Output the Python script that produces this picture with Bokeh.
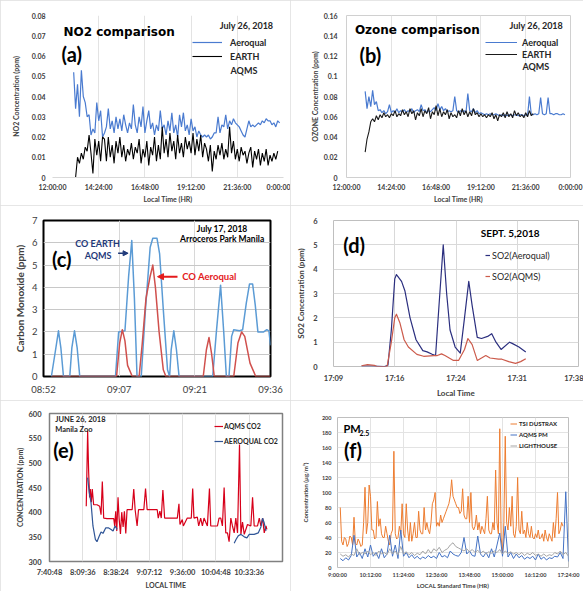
import numpy as np
from bokeh.plotting import figure
from bokeh.layouts import column, row
from bokeh.models import Range1d, FixedTicker, Label, Legend, LegendItem, Arrow, NormalHead
from bokeh.embed import file_html
from bokeh.resources import INLINE

FONT = "Lato"
TFONT = "DejaVu Sans"
STEP_H = 0.1  # sampling interval (hours) of the continuous records

# ---------------- (a) NO2, July 26 2018 ----------------
no2_ticks = [12, 14.4, 16.8, 19.2, 21.6, 24]
no2_tick_labels = ["12:00:00", "14:24:00", "16:48:00", "19:12:00", "21:36:00", "0:00:00"]
no2_yticks = [0, 0.01, 0.02, 0.03, 0.04, 0.05, 0.06, 0.07, 0.08]
no2_ytick_labels = ["0", "0.01", "0.02", "0.03", "0.04", "0.05", "0.06", "0.07", "0.08"]
no2_aeroqual_t0 = 13.1
no2_aeroqual = [0.052, 0.034, 0.046, 0.030, 0.053, 0.040, 0.037, 0.030, 0.031, 0.021,
                0.024, 0.022, 0.037, 0.028, 0.033, 0.020, 0.022, 0.025, 0.034, 0.024,
                0.028, 0.022, 0.030, 0.024, 0.029, 0.023, 0.031, 0.026, 0.022, 0.027,
                0.024, 0.036, 0.026, 0.022, 0.030, 0.025, 0.035, 0.022, 0.028, 0.033,
                0.024, 0.027, 0.021, 0.026, 0.023, 0.033, 0.024, 0.026, 0.021, 0.028,
                0.023, 0.032, 0.022, 0.026, 0.020, 0.031, 0.025, 0.032, 0.023, 0.026,
                0.021, 0.029, 0.023, 0.025, 0.020, 0.023, 0.021, 0.020, 0.021, 0.020,
                0.021, 0.019, 0.020, 0.022, 0.022, 0.030, 0.022, 0.026, 0.025, 0.031,
                0.024, 0.028, 0.026, 0.029, 0.027, 0.026, 0.025, 0.023, 0.021, 0.020,
                0.024, 0.028, 0.025, 0.026, 0.025, 0.026, 0.027, 0.026, 0.028, 0.027,
                0.029, 0.028, 0.028, 0.026, 0.027, 0.025, 0.028, 0.027]
no2_earth_t0 = 13.2
no2_earth = [0.000, 0.010, 0.007, 0.012, 0.009, 0.015, 0.013, 0.021, 0.012, 0.002,
             0.019, 0.011, 0.018, 0.008, 0.020, 0.019, 0.008, 0.020, 0.010, 0.016,
             0.007, 0.018, 0.012, 0.020, 0.010, 0.016, 0.008, 0.014, 0.011, 0.017,
             0.009, 0.015, 0.012, 0.019, 0.007, 0.014, 0.010, 0.018, 0.006, 0.015,
             0.011, 0.020, 0.008, 0.016, 0.009, 0.025, 0.012, 0.019, 0.010, 0.022,
             0.013, 0.018, 0.009, 0.021, 0.012, 0.017, 0.010, 0.020, 0.014, 0.018,
             0.012, 0.022, 0.011, 0.019, 0.013, 0.021, 0.010, 0.017, 0.014, 0.008,
             0.016, 0.003, 0.013, 0.009, 0.016, 0.011, 0.017, 0.009, 0.014, 0.010,
             0.025, 0.012, 0.018, 0.009, 0.014, 0.008, 0.015, 0.011, 0.013, 0.007,
             0.012, 0.015, 0.005, 0.013, 0.009, 0.014, 0.006, 0.012, 0.008, 0.014,
             0.006, 0.011, 0.008, 0.012, 0.009, 0.013]

# ---------------- (b) Ozone, July 26 2018 ----------------
o3_yticks = [0, 0.02, 0.04, 0.06, 0.08, 0.1, 0.12, 0.14, 0.16]
o3_ytick_labels = ["0", "0.02", "0.04", "0.06", "0.08", "0.1", "0.12", "0.14", "0.16"]
o3_aeroqual_t0 = 13.0
o3_aeroqual = [0.085, 0.068, 0.080, 0.070, 0.086, 0.072, 0.075, 0.066, 0.067, 0.064,
               0.066, 0.063, 0.065, 0.072, 0.064, 0.066, 0.064, 0.068, 0.064, 0.066,
               0.065, 0.067, 0.064, 0.066, 0.065, 0.068, 0.064, 0.066, 0.067, 0.065,
               0.072, 0.066, 0.067, 0.064, 0.066, 0.065, 0.067, 0.069, 0.066, 0.073,
               0.067, 0.070, 0.066, 0.068, 0.065, 0.066, 0.065, 0.066, 0.080, 0.066,
               0.064, 0.066, 0.065, 0.066, 0.064, 0.083, 0.066, 0.065, 0.068, 0.064,
               0.066, 0.063, 0.064, 0.063, 0.062, 0.063, 0.062, 0.063, 0.062, 0.062,
               0.063, 0.062, 0.061, 0.062, 0.061, 0.062, 0.061, 0.062, 0.062, 0.061,
               0.062, 0.062, 0.061, 0.062, 0.062, 0.061, 0.062, 0.061, 0.080, 0.062,
               0.062, 0.063, 0.062, 0.063, 0.079, 0.063, 0.062, 0.063, 0.079, 0.063,
               0.063, 0.062, 0.063, 0.063, 0.062, 0.062, 0.063, 0.062]
o3_earth_t0 = 13.0
o3_earth = [0.025, 0.038, 0.045, 0.055, 0.058, 0.055, 0.061, 0.057, 0.062, 0.059,
            0.064, 0.060, 0.062, 0.059, 0.063, 0.061, 0.066, 0.060, 0.063, 0.061,
            0.067, 0.062, 0.065, 0.060, 0.068, 0.063, 0.066, 0.057, 0.064, 0.061,
            0.068, 0.060, 0.066, 0.063, 0.069, 0.058, 0.065, 0.062, 0.071, 0.061,
            0.068, 0.060, 0.065, 0.062, 0.067, 0.058, 0.064, 0.060, 0.062, 0.059,
            0.066, 0.061, 0.068, 0.062, 0.066, 0.060, 0.065, 0.061, 0.068, 0.062,
            0.064, 0.060, 0.063, 0.060, 0.062, 0.059, 0.062, 0.060, 0.064, 0.058,
            0.062, 0.056, 0.062, 0.060, 0.064, 0.059, 0.065, 0.060, 0.063, 0.059,
            0.066, 0.061, 0.064, 0.060, 0.062, 0.059, 0.064, 0.060, 0.066, 0.061,
            0.063]

# ---------------- (c) CO, July 17 2018 (minutes after 08:52:48) ----------------
co_ticks = [0, 14.4, 28.8, 43.2]
co_tick_labels = ["08:52", "09:07", "09:21", "09:36"]
co_earth_min = [1.5, 2.3, 2.85, 3.3, 3.8, 5.0, 5.4, 5.9, 6.4, 6.9, 13.7, 14.3, 15.5, 16.2,
                16.8, 17.3, 17.8, 18.6, 19.4, 20.3, 20.8, 21.6, 22.1, 22.8, 23.6, 24.0,
                24.3, 24.8, 25.3, 25.8, 32.2, 32.9, 33.7, 34.3, 34.8, 35.3, 35.8, 36.2,
                37.3, 37.9, 38.6, 39.2, 39.8, 40.3, 40.8, 41.9, 42.5, 42.9, 43.2]
co_earth_ppm = [0, 1.2, 2.05, 1.3, 0, 0, 1.3, 2.05, 1.3, 0, 0, 2.0, 2.05, 4.5,
                6.1, 3.5, 0, 0, 3.0, 5.8, 6.2, 6.2, 5.5, 3.0, 0.3, 0,
                1.2, 2.05, 1.2, 0, 0, 2.0, 4.1, 2.0, 0, 0, 1.8, 2.1,
                2.05, 2.1, 3.3, 4.15, 4.15, 3.2, 2.0, 2.0, 2.1, 2.05, 1.4]
co_aeroqual_min = [1.5, 13.9, 14.5, 15.0, 15.5, 16.0, 16.9, 18.2, 18.8, 19.5, 20.3, 20.8,
                   21.3, 22.0, 22.8, 23.3, 30.4, 31.0, 31.5, 32.0, 32.5, 36.2, 37.0, 37.7,
                   38.3, 39.3, 40.4, 43.2]
co_aeroqual_ppm = [0, 0, 1.5, 2.1, 1.6, 0.5, 0, 0, 1.5, 3.5, 4.5, 5.0,
                   4.0, 2.0, 0.3, 0, 0, 1.2, 1.75, 1.0, 0, 0, 1.5, 2.0,
                   1.8, 0.6, 0, 0]

# ---------------- (d) SO2, Sept 5 2018 (minutes after 17:09:36) ----------------
so2_ticks = [0, 7.2, 14.4, 21.6, 28.8]
so2_tick_labels = ["17:09", "17:16", "17:24", "17:31", "17:38"]
so2_aeroqual_min = [3.3, 4.5, 6.0, 6.4, 6.8, 7.2, 7.4, 8.0, 8.4, 9.0, 9.7, 10.5, 11.0, 11.6,
                    12.0, 12.4, 12.9, 13.3, 13.7, 14.3, 14.9, 15.4, 15.9, 16.3, 16.9, 17.4,
                    18.2, 18.6, 19.1, 19.7, 20.7, 21.0, 21.8, 22.6]
so2_aeroqual_ppm = [0.02, 0.02, 0.0, 0.05, 1.5, 3.6, 3.78, 3.5, 3.1, 2.0, 1.1, 0.65, 0.6, 0.5,
                    0.45, 2.5, 5.0, 3.0, 1.5, 0.8, 0.55, 2.0, 3.5, 2.5, 1.2, 1.15,
                    1.25, 1.35, 1.0, 0.7, 1.0, 0.95, 0.8, 0.6]
so2_aqms_min = [3.3, 4.0, 4.8, 5.1, 6.3, 6.8, 7.2, 7.4, 7.8, 8.3, 8.8, 9.8, 10.6, 11.8, 12.2,
                12.7, 13.1, 14.1, 14.7, 15.4, 15.8, 16.3, 16.9, 17.4, 17.9, 18.4, 19.4, 19.8,
                20.6, 21.4, 22.0, 22.6]
so2_aqms_ppm = [0.03, 0.08, 0.05, 0.0, 0.0, 1.0, 2.0, 2.15, 1.8, 1.1, 0.8, 0.5, 0.42, 0.45, 0.45,
                0.52, 0.45, 0.25, 0.25, 0.7, 1.15, 0.9, 0.25, 0.35, 0.45, 0.35, 0.3, 0.3,
                0.2, 0.13, 0.2, 0.32]

# ---------------- (e) CO2, June 26 2018 (minutes after 7:40:48) ----------------
co2_ticks = [0, 28.8, 57.6, 86.4, 115.2, 144.0, 172.8]
co2_tick_labels = ["7:40:48", "8:09:36", "8:38:24", "9:07:12", "9:36:00", "10:04:48", "10:33:36"]
co2_aqms_min = [31.8, 33.0, 33.9, 34.7, 35.3, 36.2, 37.0, 38.2, 41.1, 43.4, 44.6, 45.7, 46.9,
                49.8, 55.6, 56.4, 57.3, 58.2, 59.3, 60.2, 61.4, 62.5, 63.7, 64.8, 66.0, 67.1,
                71.5, 72.9, 74.1, 75.8, 77.0, 81.6, 83.1, 84.5, 93.2, 94.1, 95.5, 96.7, 98.1,
                99.6, 110.6, 112.0, 112.9, 114.9, 115.8, 119.2, 122.7, 123.9, 125.0, 127.9,
                129.1, 130.8, 132.3, 133.7, 136.6, 138.4, 139.5, 145.3, 146.7, 148.2, 149.6,
                151.1, 152.5, 154.0, 155.4, 156.9, 158.3, 159.8, 161.2, 162.7, 164.4, 165.6,
                167.0, 168.5, 171.3, 174.2, 175.7, 177.1, 180.0, 181.5, 182.9, 184.4, 185.8,
                187.3, 188.1]
co2_aqms_ppm = [412, 565, 480, 430, 447, 420, 447, 415, 415, 412, 395, 462, 388,
                387, 387, 372, 402, 362, 430, 388, 356, 400, 370, 402, 357, 405,
                405, 447, 405, 372, 405, 405, 448, 405, 405, 388, 402, 388, 445,
                388, 388, 417, 375, 385, 372, 388, 388, 448, 388, 390,
                372, 388, 372, 388, 372, 448, 372, 372, 388, 388, 372,
                450, 358, 358, 340, 388, 372, 358, 388, 358, 537, 355,
                380, 355, 375, 372, 430, 372, 372, 388, 372, 388, 358,
                372, 365]
co2_aeroqual_min = [33.0, 34.4, 35.9, 37.6, 39.7, 41.1, 42.8, 44.6, 46.3, 48.6, 51.2, 53.3,
                    55.0, 56.7, 58.5, 59.0, 159.8, 161.5, 163.3, 165.6, 168.5, 170.8, 172.8,
                    177.1, 180.6, 182.9, 184.4, 185.8, 187.3]
co2_aeroqual_ppm = [470, 440, 420, 372, 345, 340, 350, 360, 357, 368, 368, 365,
                    362, 372, 365, np.nan, 337, 345, 352, 355, 350, 348, 355,
                    355, 358, 370, 388, 378, 362]

# ---------------- (f) PM2.5 ----------------
pm_ticks = [9.0, 10.2, 11.4, 12.6, 13.8, 15.0, 16.2, 17.4]
pm_tick_labels = ["9:00:00", "10:12:00", "11:24:00", "12:36:00", "13:48:00", "15:00:00",
                  "16:12:00", "17:24:00"]
pm_t0 = 9.1
pm_dustrax_step = 0.05
pm_dustrax = [80, 35, 30, 40, 38, 28, 32, 42, 40, 30, 67, 32, 30, 38, 34, 28, 30, 60,
              107, 45, 60, 110, 95, 50, 50, 38, 40, 88, 55, 65, 45, 40, 40, 55, 45, 35,
              30, 45, 50, 155, 45, 38, 40, 55, 45, 85, 45, 40, 85, 50, 35, 60, 35, 45,
              60, 40, 40, 75, 50, 45, 45, 80, 50, 60, 50, 45, 60, 85, 90, 100, 55, 60,
              55, 70, 60, 65, 70, 75, 80, 85, 95, 117, 95, 90, 85, 80, 80, 72, 75, 105,
              70, 65, 65, 95, 60, 100, 55, 50, 55, 70, 50, 60, 45, 55, 50, 45, 65, 95,
              50, 45, 45, 60, 50, 130, 60, 45, 185, 40, 20, 60, 175, 60, 50, 80, 55, 95,
              45, 40, 55, 120, 50, 45, 75, 45, 50, 40, 60, 45, 40, 55, 40, 38, 45, 40,
              50, 38, 40, 45, 35, 50, 40, 35, 45, 40, 35, 60, 40, 65, 100, 45, 50, 60,
              55]
pm_aqms = [12, 9, 13, 10, 16, 43, 14, 20, 12, 25,
           14, 30, 15, 20, 12, 25, 13, 18, 43, 15,
           30, 12, 50, 15, 20, 13, 17, 12, 15, 11,
           14, 12, 16, 13, 15, 12, 20, 14, 16, 13,
           22, 18, 16, 15, 20, 40, 18, 22, 16, 15,
           42, 18, 14, 20, 13, 25, 14, 30, 46, 15,
           55, 14, 20, 12, 18, 13, 16, 11, 14, 12,
           15, 10, 18, 11, 14, 10, 13, 12, 15, 14,
           20, 12, 101, 8]
pm_lighthouse = [18, 15, 17, 14, 18, 16, 25, 17, 20, 18,
                 22, 17, 20, 16, 22, 18, 20, 17, 25, 18,
                 22, 17, 28, 18, 21, 17, 20, 16, 19, 17,
                 22, 18, 24, 19, 25, 22, 27, 20, 23, 25,
                 30, 33, 28, 26, 24, 22, 25, 21, 24, 20,
                 23, 19, 22, 18, 21, 19, 22, 20, 24, 18,
                 22, 19, 21, 18, 20, 17, 20, 16, 19, 17,
                 20, 16, 18, 15, 18, 15, 17, 16, 20, 18,
                 22, 17, 20, 15]


def times(t0, values, step=STEP_H):
    return t0 + step * np.arange(len(values))


PANEL_STYLE = {"outline": "1px solid #dedede", "outline-offset": "-1px"}


def make_fig(w, h, borders, xr, yr):
    l, r, t, b = borders
    p = figure(width=w, height=h, x_range=Range1d(*xr), y_range=Range1d(*yr),
               output_backend="svg", toolbar_location=None,
               min_border_left=l, min_border_right=r, min_border_top=t, min_border_bottom=b,
               styles=PANEL_STYLE)
    p.background_fill_color = "white"
    p.border_fill_color = "white"
    p.outline_line_color = None
    for ax in (p.xaxis[0], p.yaxis[0]):
        ax.major_tick_line_color = None
        ax.minor_tick_line_color = None
        ax.major_tick_out = 0
        ax.major_tick_in = 0
        ax.minor_tick_out = 0
        ax.minor_tick_in = 0
        ax.axis_line_color = None
        ax.major_label_text_font = FONT
        ax.axis_label_text_font = FONT
        ax.axis_label_text_font_style = "bold"
        ax.major_label_text_font_style = "bold"
        ax.major_label_text_color = "#404040"
        ax.axis_label_text_color = "#404040"
    p.xgrid.grid_line_color = None
    p.ygrid.grid_line_color = None
    return p


def style_axes(p, xticks, xlabels, yticks, ylabels, fs, xtitle, ytitle, tfs,
               xstand, ystand, xtstand, ytstand):
    xa, ya = p.xaxis[0], p.yaxis[0]
    xa.ticker = FixedTicker(ticks=xticks)
    xa.major_label_overrides = dict(zip(xticks, xlabels))
    ya.ticker = FixedTicker(ticks=yticks)
    if ylabels is not None:
        ya.major_label_overrides = dict(zip(yticks, ylabels))
    xa.major_label_text_font_size = fs
    ya.major_label_text_font_size = fs
    xa.axis_label = xtitle
    ya.axis_label = ytitle
    xa.axis_label_text_font_size = tfs
    ya.axis_label_text_font_size = tfs
    xa.major_label_standoff = xstand
    ya.major_label_standoff = ystand
    xa.axis_label_standoff = xtstand
    ya.axis_label_standoff = ytstand


def lab(p, x, y, text, size, color="#000000", style="bold", font=FONT, align="left"):
    p.add_layout(Label(x=x, y=y, text=text, text_font=font, text_font_size=size,
                       text_font_style=style, text_color=color, text_align=align,
                       text_baseline="middle"))


def legend(p, items, loc, fs, gw, gh, spacing, standoff, color="#262626", style="bold"):
    lg = Legend(items=[LegendItem(label=t, renderers=[r]) for t, r in items], location=loc,
                background_fill_alpha=0, border_line_alpha=0, padding=0, margin=0,
                label_text_font=FONT, label_text_font_size=fs, label_text_font_style=style,
                label_text_color=color, glyph_width=gw, glyph_height=gh, label_height=gh,
                spacing=spacing, label_standoff=standoff)
    p.add_layout(lg)


BLUE_A = "#4a7bd0"

# ---- (a)
pa = make_fig(290, 205, (52, 7, 15, 25), (12, 24), (0, 0.08))
style_axes(pa, no2_ticks, no2_tick_labels, no2_yticks, no2_ytick_labels, "7px",
           "Local Time (HR)", "NO2 Concentration (ppm)", "7px", 5, 7, 1, 9)
pa.xgrid.grid_line_color = "#e3e3e3"
pa.xaxis[0].axis_line_color = "#d9d9d9"
ra1 = pa.line(times(no2_aeroqual_t0, no2_aeroqual), no2_aeroqual, color=BLUE_A, line_width=1.2)
ra2 = pa.line(times(no2_earth_t0, no2_earth), no2_earth, color="#000000", line_width=1.1)
legend(pa, [("Aeroqual", ra1), ("EARTH", ra2)], (140, 115), "9px", 30, 12, 2, 8)
lab(pa, 21.25, 0.0530, "AQMS", "9px", "#262626")
lab(pa, 12.57, 0.0718, "NO2 comparison", "12px", font=TFONT)
lab(pa, 12.47, 0.0612, "(a)", "20px")
lab(pa, 23.47, 0.0752, "July 26, 2018", "9px", "#262626", align="right")

# ---- (b)
pb = make_fig(293, 205, (56, 13, 15, 25), (12, 24), (0, 0.16))
style_axes(pb, no2_ticks, no2_tick_labels, o3_yticks, o3_ytick_labels, "7px",
           "Local Time (HR)", "OZONE Concentration (ppm)", "7px", 5, 9, 1, 2)
pb.xgrid.grid_line_color = "#e3e3e3"
pb.outline_line_color = "#d0d0d0"
rb1 = pb.line(times(o3_aeroqual_t0, o3_aeroqual), o3_aeroqual, color=BLUE_A, line_width=1.2)
rb2 = pb.line(times(o3_earth_t0, o3_earth), o3_earth, color="#1a1a1a", line_width=1.1)
legend(pb, [("Aeroqual", rb1), ("EARTH", rb2)], (139, 117), "9px", 32, 12, 0, 5)
lab(pb, 21.43, 0.1096, "AQMS", "9px", "#262626")
lab(pb, 12.45, 0.1455, "Ozone comparison", "12px", font=TFONT)
lab(pb, 12.7, 0.121, "(b)", "20px")
lab(pb, 23.6, 0.150, "July 26, 2018", "9px", "#262626", align="right")

# ---- (c)
pc = make_fig(290, 195, (43, 20, 15, 24), (0, 43.2), (0, 7))
style_axes(pc, co_ticks, co_tick_labels, [0, 1, 2, 3, 4, 5, 6, 7], None, "9.5px",
           None, "Carbon Monoxide (ppm)", "10px", 7, 6, 0, 3)
for ax in (pc.xaxis[0], pc.yaxis[0]):
    ax.major_label_text_font_style = "normal"
pc.ygrid.grid_line_color = "#c8c8c8"
pc.xgrid.grid_line_color = "#d8d8d8"
pc.outline_line_color = "#000000"
pc.outline_line_width = 2
pc.line(co_earth_min, co_earth_ppm, color="#5B9BD5", line_width=1.5, line_join="round")
pc.line(co_aeroqual_min, co_aeroqual_ppm, color="#d0504d", line_width=1.5, line_join="round")
NAVY = "#1f3a7a"
lab(pc, 10.3, 5.97, "CO EARTH", "9px", NAVY, align="center")
lab(pc, 10.4, 5.43, "AQMS", "9px", NAVY, align="center")
pc.add_layout(Arrow(end=NormalHead(size=5, fill_color=NAVY, line_color=NAVY),
                    x_start=14.2, y_start=5.53, x_end=16.1, y_end=5.53,
                    line_color=NAVY, line_width=1.5))
lab(pc, 26.4, 4.48, "CO Aeroqual", "9.5px", "#e41a1c")
pc.add_layout(Arrow(end=NormalHead(size=6, fill_color="#e41a1c", line_color="#e41a1c"),
                    x_start=25.5, y_start=4.48, x_end=21.7, y_end=4.48,
                    line_color="#e41a1c", line_width=2))
lab(pc, 34.0, 6.64, "July 17, 2018", "8.5px", align="center")
lab(pc, 34.0, 6.15, "Arroceros Park Manila", "8.5px", align="center")
lab(pc, 1.6, 5.29, "(c)", "20px")
lab(pc, 21.6, -0.8, "Local Time", "6.5px", "#404040", align="center")

# ---- (d)
pd_ = make_fig(293, 195, (43, 5, 15, 32), (0, 28.8), (0, 6))
style_axes(pd_, so2_ticks, so2_tick_labels, [0, 1, 2, 3, 4, 5, 6], None, "7.5px",
           "Local Time", "SO2 Concentration (ppm)", "8px", 7, 16, 2, 4)
pd_.xgrid.grid_line_color = "#d9d9d9"
pd_.ygrid.grid_line_color = "#d9d9d9"
pd_.outline_line_color = "#bfbfbf"
rd1 = pd_.line(so2_aeroqual_min, so2_aeroqual_ppm, color="#2b2f7f", line_width=1.2, line_join="round")
rd2 = pd_.line(so2_aqms_min, so2_aqms_ppm, color="#cc5b4b", line_width=1.2, line_join="round")
legend(pd_, [("SO2(Aeroqual)", rd1), ("SO2(AQMS)", rd2)], (152, 84), "9px", 5, 12, 9, 2,
       color="#262626", style="normal")
lab(pd_, 20.76, 5.47, "SEPT. 5,2018", "10px", align="center")
lab(pd_, 1.14, 4.99, "(d)", "20px")

# ---- (e)
pe = make_fig(290, 191, (49, 8, 13, 29), (0, 201.6), (300, 600))
style_axes(pe, co2_ticks, co2_tick_labels, [300, 350, 400, 450, 500, 550, 600], None, "7.5px",
           "LOCAL TIME", "CONCENTRATION (ppm)", "7px", 6, 8, 1, 1)
pe.xgrid.grid_line_color = "#e0e0e0"
pe.outline_line_color = "#808080"
pe.outline_line_width = 1.5
re1 = pe.line(co2_aqms_min, co2_aqms_ppm, color="#d7001a", line_width=1.2)
re2 = pe.line(co2_aeroqual_min, co2_aeroqual_ppm, color="#2f5597", line_width=1.2)
legend(pe, [("AQMS CO2", re1), ("AEROQUAL CO2", re2)], (165, 114), "7px", 9, 12, 3, 1)
lab(pe, 4.9, 588, "JUNE 26, 2018", "7.5px", "#262626")
lab(pe, 4.9, 568, "Manila Zoo", "7.5px", "#262626")
lab(pe, 3.2, 526, "(e)", "20px")

# ---- (f)
pf = make_fig(293, 191, (47, 15, 17, 20), (9.0, 17.4), (0, 200))
style_axes(pf, pm_ticks, pm_tick_labels, [0, 20, 40, 60, 80, 100, 120, 140, 160, 180, 200], None,
           "5.5px", "LOCAL Standard Time (HR)", "Concentration (\u00b5g/m\u00b3)", "6px", 4, 6, 1, 10)
pf.xgrid.grid_line_color = "#e3e3e3"
pf.ygrid.grid_line_color = "#e3e3e3"
pf.outline_line_color = "#bfbfbf"
rf1 = pf.line(times(pm_t0, pm_dustrax, pm_dustrax_step), pm_dustrax, color="#ED7D31", line_width=1.0)
rf2 = pf.line(times(pm_t0, pm_aqms), pm_aqms, color="#4472C4", line_width=1.0)
rf3 = pf.line(times(pm_t0, pm_lighthouse), pm_lighthouse, color="#A5A5A5", line_width=1.0)
legend(pf, [("TSI DUSTRAX", rf1), ("AQMS PM", rf2), ("LIGHTHOUSE", rf3)], (173, 117), "6px",
       7, 9, 2, 2)
lab(pf, 9.22, 185, "PM", "11px")
lab(pf, 9.8, 180, "2.5", "7px")
lab(pf, 9.24, 157, "(f)", "20px")

# each panel in its own box so that rows do not align the panels' plot frames
cells = [column(p, spacing=0) for p in (pa, pb, pc, pd_, pe, pf)]
layout = column(row(cells[0], cells[1], spacing=0), row(cells[2], cells[3], spacing=0),
                row(cells[4], cells[5], spacing=0), spacing=0)

open("out.html", "w").write(file_html(layout, INLINE))
